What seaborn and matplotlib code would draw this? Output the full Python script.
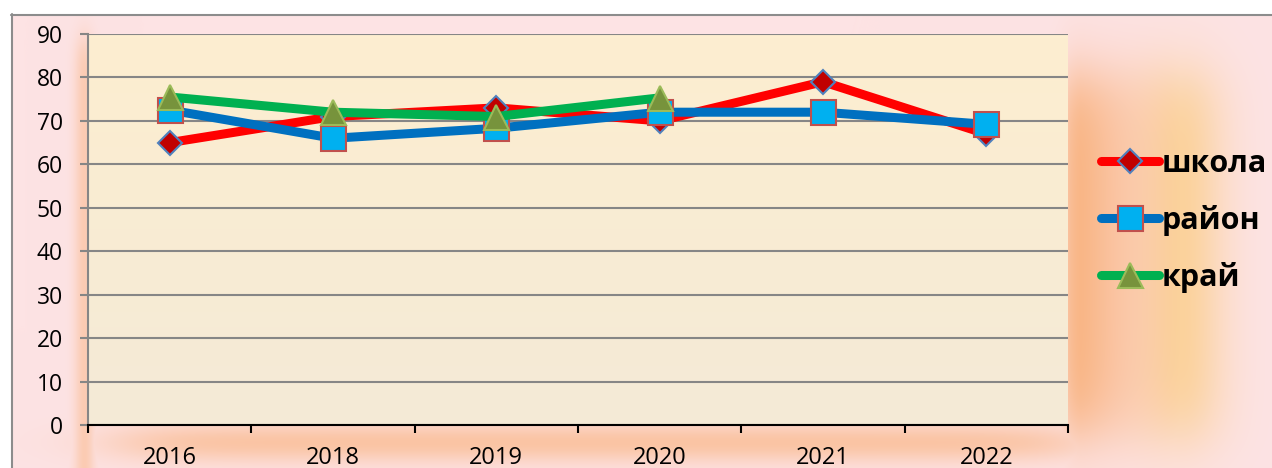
import numpy as np
import pandas as pd
import seaborn as sns
import matplotlib.pyplot as plt

# данные с диаграммы
years = ['2016', '2018', '2019', '2020', '2021', '2022']
shkola = [65, 71, 73, 70, 79, 67]
rayon = [72.5, 66, 68.3, 72, 72, 69.2]
kray = [75.5, 72, 71, 75.3]
series_names = ['школа', 'район', 'край']

sns.set_theme(style='white')
plt.rcParams['font.family'] = ['Open Sans', 'DejaVu Sans']

W, H = 1272, 468
fig = plt.figure(figsize=(W / 100, H / 100), dpi=100)

# фон-градиент (как в Excel)
yy, xx = np.mgrid[0:H, 0:W].astype(float)
pink = np.array([253, 227, 228]) / 255
orange = np.array([249, 180, 130]) / 255
peach = np.array([251, 210, 156]) / 255
sig = lambda v: 1 / (1 + np.exp(-v))
vert = sig((yy - 75) / 20) * sig((435 - yy) / 20)
w_orange = np.clip((1180 - xx) / 100, 0, 1) * sig((xx - 1062) / 6) * vert
w_peach = np.exp(-((xx - 1180) / 45) ** 2) * vert
w_bottom = np.exp(-((yy - 442) / 20) ** 2) * sig((xx - 120) / 30) * sig((1080 - xx) / 30) * 0.65
w_left = np.exp(-((xx - 84) / 10) ** 2) * 0.5 * sig((yy - 40) / 10)
img = pink * np.ones((H, W, 3))
w = np.clip(w_peach, 0, 1)[..., None]
img = img * (1 - w) + peach * w
w = np.clip(np.maximum.reduce([w_orange, w_bottom, w_left]), 0, 1)[..., None]
img = img * (1 - w) + orange * w
img[:14, :] = 1.0
img[:, :11] = 1.0
bg = fig.add_axes([0, 0, 1, 1])
bg.imshow(img, aspect='auto', extent=(0, W, H, 0), origin='upper')
bg.plot([11, W], [14.5, 14.5], color='#8c8c8c', lw=1.5)
bg.plot([11.5, 11.5], [14, H], color='#8c8c8c', lw=1.5)
bg.set_xlim(0, W)
bg.set_ylim(H, 0)
bg.axis('off')

ax = fig.add_axes([88 / W, (H - 425) / H, 980 / W, 391 / H])
ax.set_zorder(2)
grad = np.linspace(0, 1, 100)[:, None, None]
top_c = np.array([253, 238, 208]) / 255
bot_c = np.array([244, 234, 215]) / 255
ax.imshow(top_c * (1 - grad) + bot_c * grad, aspect='auto',
          extent=(-0.5, 5.5, 0, 90), zorder=0)

x_all = np.arange(len(years))
styles = [
    (shkola, '#ff0000', 'D', 12, '#c00000', '#4f81bd'),
    (rayon, '#0070c0', 's', 18, '#00b0f0', '#c0504d'),
    (kray, '#00b050', '^', 18, '#77933c', '#9bbb59'),
]
for name, (vals, lc, mk, ms, mfc, mec) in zip(series_names, styles):
    df = pd.DataFrame({'x': x_all[:len(vals)], 'y': vals})
    sns.lineplot(data=df, x='x', y='y', ax=ax, color=lc, lw=6.5,
                 marker=mk, markersize=ms, markerfacecolor=mfc,
                 markeredgecolor=mec, markeredgewidth=1.5,
                 solid_capstyle='round', solid_joinstyle='round',
                 label=name, zorder=3)

ax.set_xlim(-0.5, 5.5)
ax.set_ylim(0, 90)
ax.set_yticks(range(0, 91, 10))
ax.set_xticks(x_all)
ax.set_xticklabels(years)
ax.set_xticks(np.arange(-0.5, 5.6, 1), minor=True)
ax.set_xlabel('')
ax.set_ylabel('')
ax.grid(axis='y', color='#868686', lw=1.5, zorder=1)
ax.set_axisbelow(True)
for s in ['top', 'right']:
    ax.spines[s].set_visible(False)
ax.spines['left'].set_color('#868686')
ax.spines['left'].set_linewidth(1.5)
ax.spines['bottom'].set_color('#000000')
ax.spines['bottom'].set_linewidth(1.5)
ax.tick_params(axis='y', left=True, length=6, width=1.5, color='#868686',
               labelsize=16.5, pad=12, labelcolor='black')
ax.tick_params(axis='x', which='major', bottom=False, labelsize=17, pad=9,
               labelcolor='black')
ax.tick_params(axis='x', which='minor', bottom=True, length=6, width=1.5,
               color='black')

leg = ax.legend(loc='center left', bbox_to_anchor=(1101 / W, (H - 221) / H),
                bbox_transform=fig.transFigure, frameon=False,
                prop={'size': 22, 'weight': 'bold'}, handlelength=1.9,
                handletextpad=0.08, labelspacing=0.85,
                borderaxespad=0, borderpad=0)
for t in leg.get_texts():
    t.set_color('black')

fig.savefig('out.png', dpi=100)
